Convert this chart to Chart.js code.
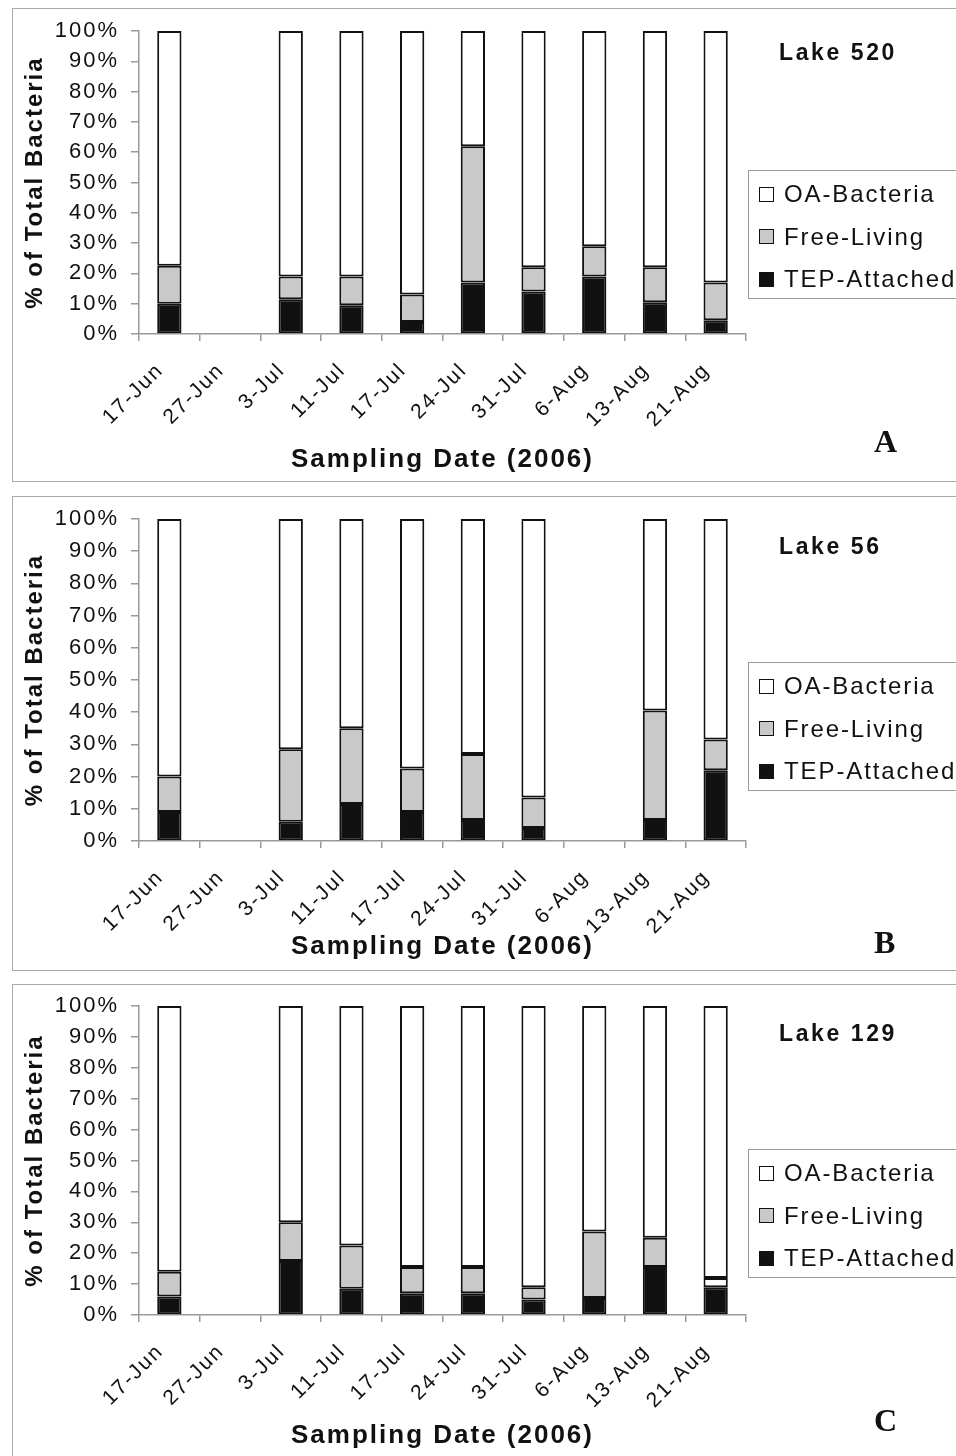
<!DOCTYPE html>
<html>
<head>
<meta charset="utf-8">
<script src="https://cdn.jsdelivr.net/npm/chart.js@4.4.0/dist/chart.umd.min.js"></script>
<style>
  body { margin: 0; width: 956px; height: 1456px; overflow: hidden; background: #fff; position: relative;
         font-family: "Liberation Sans", Arial, sans-serif; color: #111; }
  .panel { position: absolute; left: 12px; width: 960px; border: 1px solid #aaa; box-sizing: border-box; }
  .panel canvas { position: absolute; left: 0; top: 0; }
  .lake { position: absolute; left: 766px; font-weight: bold; font-size: 23px; letter-spacing: 2.6px; line-height: 26px; }
  .legend { position: absolute; left: 735px; width: 260px; height: 129px; border: 1px solid #999;
            box-sizing: border-box; padding: 2px 0 0 10px; }
  .legend .item { height: 42.5px; display: flex; align-items: center; font-size: 24px; letter-spacing: 1.9px; white-space: nowrap; }
  .legend .sw { width: 15px; height: 15px; border: 1.5px solid #111; margin-right: 10px; box-sizing: border-box; flex: none; }
  .tag { position: absolute; left: 861px; font-family: "Liberation Serif", serif; font-weight: bold; font-size: 32px; line-height: 36px; }
</style>
</head>
<body>
<div class="panel" id="pA" style="top:8px;height:474px;"><canvas id="chartA" width="943" height="472"></canvas></div>
<div class="panel" id="pB" style="top:496px;height:475px;"><canvas id="chartB" width="943" height="473"></canvas></div>
<div class="panel" id="pC" style="top:984px;height:480px;"><canvas id="chartC" width="943" height="478"></canvas></div>
<script>
// sampling dates (categories)
const dates = ['17-Jun', '27-Jun', '3-Jul', '11-Jul', '17-Jul', '24-Jul', '31-Jul', '6-Aug', '13-Aug', '21-Aug'];
const yTicks = [0, 10, 20, 30, 40, 50, 60, 70, 80, 90, 100];

// Lake 520 (% of total bacteria)
const tep520 = [10, null, 11.5, 9.5, 4, 17, 14, 19, 10.5, 4.5];
const free520 = [12.5, null, 7.5, 9.5, 9, 45, 8, 10, 11.5, 12.5];
const oa520 = [77.5, null, 81, 81, 87, 38, 78, 71, 78, 83];

// Lake 56
const tep56 = [9, null, 6, 11.5, 9, 6.5, 4, null, 6.5, 22];
const free56 = [11, null, 22.5, 23.5, 13.5, 20.5, 9.5, null, 34, 9.5];
const oa56 = [80, null, 71.5, 65, 77.5, 73, 86.5, null, 59.5, 68.5];

// Lake 129
const tep129 = [6, null, 17.5, 8.5, 7, 7, 5, 5.5, 15.5, 9];
const free129 = [8, null, 12.5, 14, 8.5, 8.5, 4, 21.5, 9.5, 3];
const oa129 = [86, null, 70, 77.5, 84.5, 84.5, 91, 73, 75, 88];

const BLACK = '#111111';
const GREY = '#c9c9c9';
const AXIS = '#999999';

// the scanned figure is stretched sideways, so widen the canvas text a bit
const spacing = {
  id: 'spacing',
  beforeUpdate(chart) { chart.ctx.letterSpacing = '2px'; },
  beforeDraw(chart) { chart.ctx.letterSpacing = '2px'; }
};

function makePanel(panelId, canvasId, lake, tag, tep, free, oa, lay) {
  const datasets = [
    { label: 'TEP-Attached', data: tep, backgroundColor: BLACK },
    { label: 'Free-Living', data: free, backgroundColor: lay.freeFill || GREY },
    { label: 'OA-Bacteria', data: oa, backgroundColor: '#ffffff' }
  ];
  datasets.forEach(d => {
    d.borderColor = BLACK;
    d.borderWidth = 2;
    d.borderSkipped = false;
    d.barPercentage = 0.4;
    d.categoryPercentage = 1.0;
  });

  new Chart(document.getElementById(canvasId), {
    type: 'bar',
    data: { labels: dates, datasets: datasets },
    plugins: [spacing],
    options: {
      responsive: false,
      animation: false,
      layout: { padding: { top: lay.top, right: 210, bottom: lay.bottom, left: 0 } },
      plugins: { legend: { display: false }, tooltip: { enabled: false } },
      scales: {
        x: {
          stacked: true,
          afterFit: s => { s.height = lay.xh; },
          border: { color: AXIS, width: 1.5 },
          grid: { offset: true, drawOnChartArea: false, tickLength: 7, color: AXIS, lineWidth: 1.5 },
          ticks: {
            autoSkip: false, minRotation: 45, maxRotation: 45, labelOffset: -9, padding: 17,
            color: BLACK, font: { family: 'Liberation Sans', size: 21 }
          },
          title: {
            display: true, text: 'Sampling Date (2006)', color: BLACK, padding: 0,
            font: { family: 'Liberation Sans', size: 26, weight: 'bold' }
          }
        },
        y: {
          stacked: true,
          min: 0,
          max: 100,
          afterFit: s => { s.width = 126; s.paddingTop = 0; s.paddingBottom = 0; },
          afterBuildTicks: s => { s.ticks = yTicks.map(v => ({ value: v })); },
          border: { color: AXIS, width: 1.5 },
          grid: { drawOnChartArea: false, tickLength: 8, color: AXIS, lineWidth: 1.5 },
          ticks: {
            padding: 12, color: BLACK,
            font: { family: 'Liberation Sans', size: 22 },
            callback: v => v + '%'
          },
          title: {
            display: true, text: '% of Total Bacteria', color: BLACK, padding: { top: 8, bottom: 0 },
            font: { family: 'Liberation Sans', size: 24, weight: 'bold' }
          }
        }
      }
    }
  });

  const panel = document.getElementById(panelId);

  const name = document.createElement('div');
  name.className = 'lake';
  name.style.top = lay.lakeTop + 'px';
  name.textContent = lake;
  panel.appendChild(name);

  // legend, top to bottom in reverse stacking order
  const legend = document.createElement('div');
  legend.className = 'legend';
  legend.style.top = lay.legendTop + 'px';
  datasets.slice().reverse().forEach(d => {
    const item = document.createElement('div');
    item.className = 'item';
    const sw = document.createElement('span');
    sw.className = 'sw';
    sw.style.background = d.label === 'Free-Living' ? GREY : d.backgroundColor;
    item.appendChild(sw);
    item.appendChild(document.createTextNode(d.label));
    legend.appendChild(item);
  });
  panel.appendChild(legend);

  const letter = document.createElement('div');
  letter.className = 'tag';
  letter.style.top = lay.tagTop + 'px';
  letter.textContent = tag;
  panel.appendChild(letter);
}

makePanel('pA', 'chartA', 'Lake 520', 'A', tep520, free520, oa520,
  { top: 22, bottom: 6, xh: 141, lakeTop: 30, legendTop: 161, tagTop: 414 });
makePanel('pB', 'chartB', 'Lake 56', 'B', tep56, free56, oa56,
  { top: 22, bottom: 8, xh: 121, lakeTop: 36, legendTop: 165, tagTop: 427 });
makePanel('pC', 'chartC', 'Lake 129', 'C', tep129, free129, oa129,
  { top: 21, bottom: 12, xh: 136, lakeTop: 35, legendTop: 164, tagTop: 417,
    freeFill: [GREY, GREY, GREY, GREY, GREY, GREY, GREY, GREY, GREY, '#ffffff'] });
</script>
</body>
</html>
